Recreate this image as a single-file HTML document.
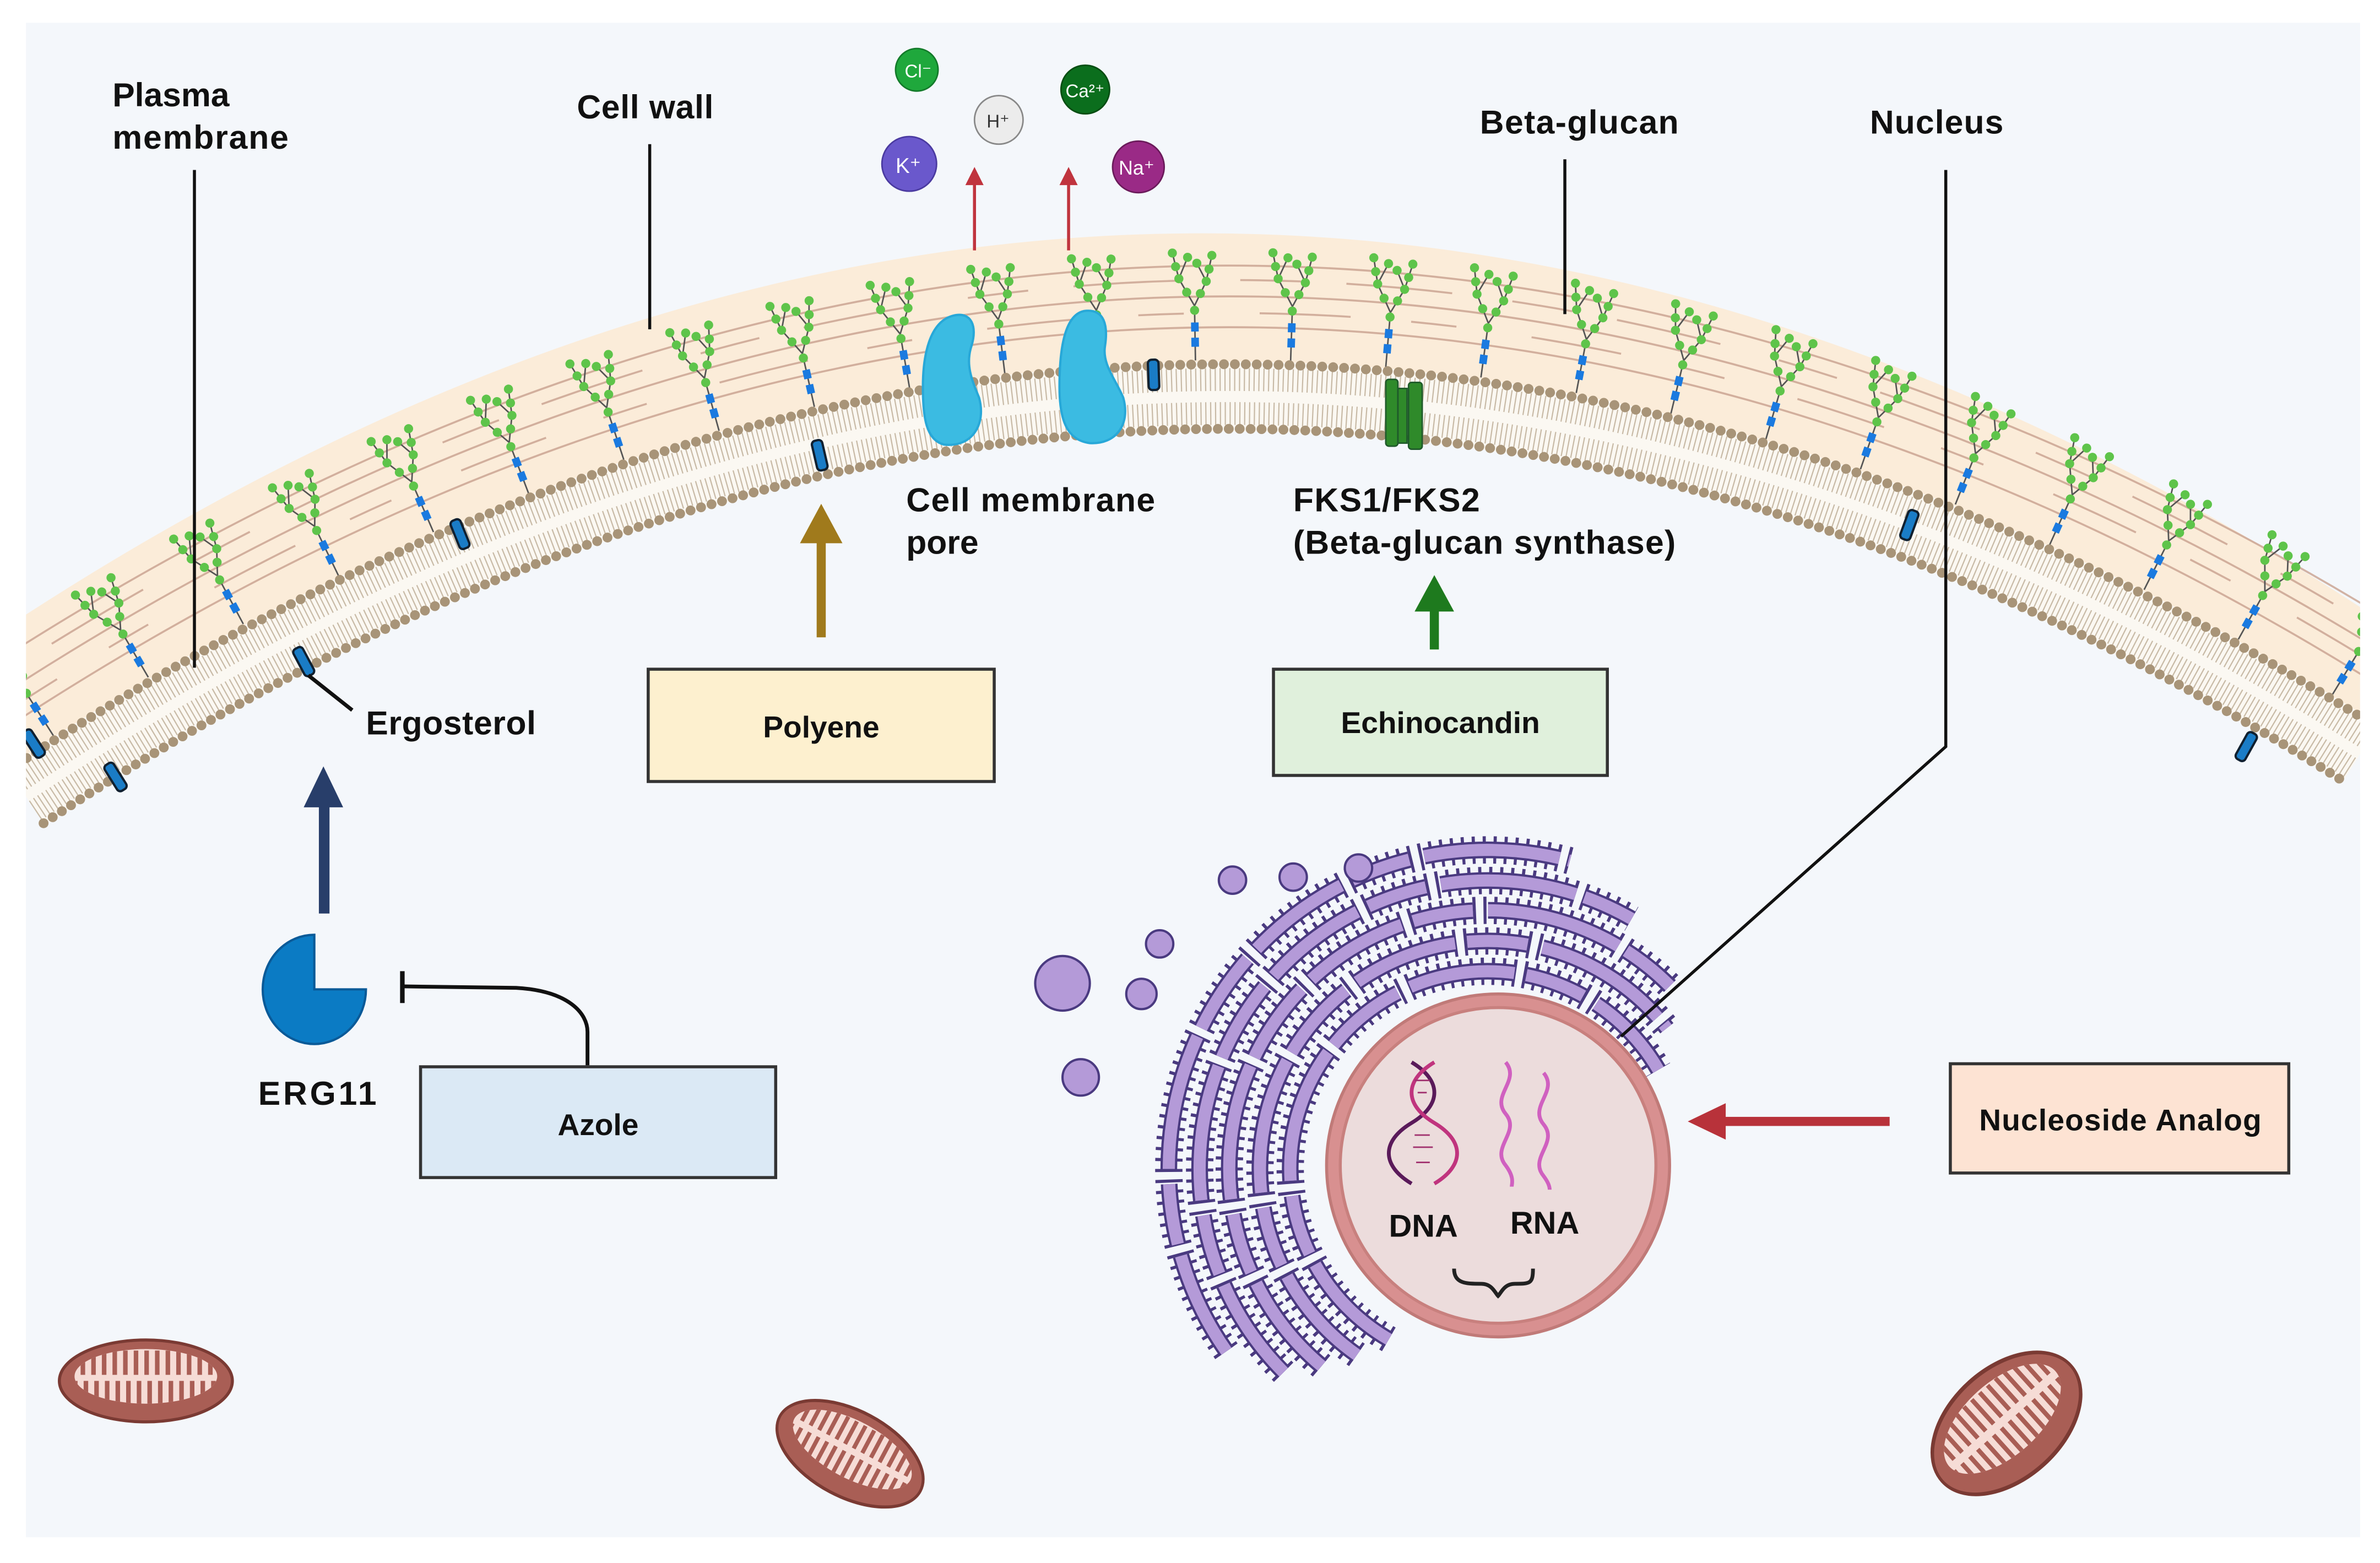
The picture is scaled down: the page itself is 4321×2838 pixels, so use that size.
<!DOCTYPE html>
<html><head><meta charset="utf-8"><style>
html,body{margin:0;padding:0;background:#fff;width:4321px;height:2838px;overflow:hidden;}
svg{display:block;}
text{font-family:"Liberation Sans",sans-serif;font-weight:bold;fill:#111;}
</style></head><body>
<svg width="4321" height="2838" viewBox="0 0 1568 1030" xmlns="http://www.w3.org/2000/svg" xmlns:xlink="http://www.w3.org/1999/xlink">
<defs>
<clipPath id="panel"><rect x="17" y="15" width="1538" height="998"/></clipPath>
<g id="tree">
<line x1="0" y1="0" x2="0" y2="-36" stroke="#555" stroke-width="1"/>
<path d="M0,-36 L-10,-54 L-14,-71 M-10,-54 L-4,-68 M0,-36 L8,-52 L12,-69 M8,-52 L2,-64" fill="none" stroke="#555" stroke-width="1"/>
<rect x="-2.5" y="-15" width="5" height="6" fill="#1a7ae0"/>
<rect x="-2.5" y="-25" width="5" height="6" fill="#1a7ae0"/>
<g fill="#5ec44a">
<circle cx="0" cy="-33" r="3"/><circle cx="-5" cy="-45" r="3"/><circle cx="-10" cy="-54" r="3"/><circle cx="-12" cy="-62" r="3"/><circle cx="-14" cy="-71" r="3"/><circle cx="-4" cy="-68" r="3"/><circle cx="4" cy="-44" r="3"/><circle cx="8" cy="-52" r="3"/><circle cx="10" cy="-60" r="3"/><circle cx="12" cy="-69" r="3"/><circle cx="2" cy="-64" r="3"/>
</g>
</g>
<g id="rod"><rect x="-3.5" y="-10" width="7" height="20" rx="2.5" fill="#1a7cc6" stroke="#102030" stroke-width="1.5"/></g>
<clipPath id="mclip"><ellipse cx="0" cy="-3" rx="47" ry="18"/></clipPath>
<g id="mito">
<ellipse cx="0" cy="0" rx="57" ry="27" fill="#a95e55" stroke="#7a3a33" stroke-width="2"/>
<ellipse cx="0" cy="-3" rx="47" ry="18" fill="#f6dcd6"/>
<g clip-path="url(#mclip)">
<line x1="-50" y1="-12" x2="50" y2="-12" stroke="#a95e55" stroke-width="16" stroke-dasharray="3 4"/>
<line x1="-48" y1="8" x2="50" y2="8" stroke="#a95e55" stroke-width="16" stroke-dasharray="3 4"/>
</g>
</g>
</defs>
<rect x="0" y="0" width="1568" height="1030" fill="#ffffff"/>
<rect x="17" y="15" width="1538" height="998" fill="#f4f7fb"/>
<g clip-path="url(#panel)">
<path d="M17,405 Q790,-95 1555,400 L1555,497 Q790,12 17,525 Z" fill="#fbecd9"/>
<g fill="none" stroke="#c9a08f" stroke-width="1.3" opacity="0.8">
<path d="M-7.9,487.5 Q789.4,-41.6 1579.1,459"/>
<path d="M-18.9,470.9 Q789.2,-65.5 1589.8,442.1"/>
<path d="M-30,454.2 Q788.9,-89.3 1600.5,425.2"/>
<path d="M-13,480 Q789,-52 1585,450" stroke-dasharray="60 40 30 50"/>
<path d="M-25,462 Q789,-78 1595,433" stroke-dasharray="40 30 70 40"/>
</g>
<use xlink:href="#tree" transform="translate(35,484.7) rotate(-32.5)"/>
<use xlink:href="#tree" transform="translate(97.6,446.3) rotate(-30.4)"/>
<use xlink:href="#tree" transform="translate(160.2,411.2) rotate(-28.2)"/>
<use xlink:href="#tree" transform="translate(222.9,379.3) rotate(-25.8)"/>
<use xlink:href="#tree" transform="translate(285.5,350.6) rotate(-23.4)"/>
<use xlink:href="#tree" transform="translate(348.2,325.2) rotate(-20.8)"/>
<use xlink:href="#tree" transform="translate(410.9,302.9) rotate(-18.2)"/>
<use xlink:href="#tree" transform="translate(473.7,283.9) rotate(-15.5)"/>
<use xlink:href="#tree" transform="translate(536.5,268.1) rotate(-12.7)"/>
<use xlink:href="#tree" transform="translate(599.2,255.6) rotate(-9.85)"/>
<use xlink:href="#tree" transform="translate(662,246.3) rotate(-6.95)"/>
<use xlink:href="#tree" transform="translate(724.8,240.4) rotate(-4)"/>
<use xlink:href="#tree" transform="translate(787.6,237.5) rotate(-1)"/>
<use xlink:href="#tree" transform="translate(850.3,238) rotate(1.9)"/>
<use xlink:href="#tree" transform="translate(913,241.8) rotate(4.9)"/>
<use xlink:href="#tree" transform="translate(975.7,248.7) rotate(7.8)"/>
<use xlink:href="#tree" transform="translate(1038.5,259) rotate(10.75)"/>
<use xlink:href="#tree" transform="translate(1100.9,272.5) rotate(13.6)"/>
<use xlink:href="#tree" transform="translate(1163.5,289.3) rotate(16.4)"/>
<use xlink:href="#tree" transform="translate(1225.8,309.2) rotate(19.1)"/>
<use xlink:href="#tree" transform="translate(1288.3,332.4) rotate(21.7)"/>
<use xlink:href="#tree" transform="translate(1350.5,358.9) rotate(24.3)"/>
<use xlink:href="#tree" transform="translate(1412.7,388.6) rotate(26.7)"/>
<use xlink:href="#tree" transform="translate(1474.8,421.3) rotate(29)"/>
<use xlink:href="#tree" transform="translate(1536.9,457.5) rotate(31.3)"/>
<path d="M30.3,545 Q790.3,40.6 1542.2,517.3 L1600,540 L1600,1100 L-50,1100 L-50,560 Z" fill="#f4f7fb"/>
<path d="M17,525 Q790,12 1555,497" fill="none" stroke="#fbf8f2" stroke-width="46"/>
<path d="M10.9,515.8 Q789.9,-1.1 1560.9,487.7" fill="none" stroke="#c8baa6" stroke-width="15" stroke-dasharray="0.8 2.4"/>
<path d="M23.1,534.2 Q790.1,25.1 1549.1,506.3" fill="none" stroke="#c8baa6" stroke-width="15" stroke-dasharray="0.8 2.4"/>
<path d="M5.4,507.5 Q789.7,-13 1566.2,479.3" fill="none" stroke="#a89478" stroke-width="6.5" stroke-linecap="round" stroke-dasharray="0 7.2"/>
<path d="M28.6,542.5 Q790.3,37 1543.8,514.7" fill="none" stroke="#a89478" stroke-width="6.5" stroke-linecap="round" stroke-dasharray="0 7.2"/>
<use xlink:href="#rod" transform="translate(22,490) rotate(-33)"/>
<use xlink:href="#rod" transform="translate(76,512) rotate(-32)"/>
<use xlink:href="#rod" transform="translate(200,436) rotate(-28)"/>
<use xlink:href="#rod" transform="translate(303,352) rotate(-22)"/>
<use xlink:href="#rod" transform="translate(540,300) rotate(-13)"/>
<use xlink:href="#rod" transform="translate(760,247) rotate(-2)"/>
<use xlink:href="#rod" transform="translate(1258,346) rotate(20)"/>
<use xlink:href="#rod" transform="translate(1480,492) rotate(29)"/>
</g>
<path d="M628,208 C640,205 644,215 640,228 C636,240 640,250 645,262 C650,280 640,295 622,293 C610,290 608,275 608,255 C608,235 612,212 628,208 Z" fill="#3bbbe2" stroke="#28a8d8" stroke-width="1.5"/>
<path d="M714,205 C728,203 730,215 728,228 C726,240 735,250 740,262 C745,280 735,293 718,292 C702,290 698,275 698,255 C698,235 700,208 714,205 Z" fill="#3bbbe2" stroke="#28a8d8" stroke-width="1.5"/>
<rect x="913" y="250" width="8" height="44" rx="2" fill="#2f8a2a" stroke="#1f5a2a" stroke-width="1"/>
<rect x="921" y="256" width="6" height="36" fill="#2f8a2a" stroke="#1f5a2a" stroke-width="1"/>
<rect x="928" y="252" width="9" height="44" rx="2" fill="#2f8a2a" stroke="#1f5a2a" stroke-width="1"/>
<line x1="642" y1="165" x2="642" y2="120" stroke="#c0343e" stroke-width="2"/><path d="M636,122 L642,110 L648,122 Z" fill="#c0343e"/>
<line x1="704" y1="165" x2="704" y2="120" stroke="#c0343e" stroke-width="2"/><path d="M698,122 L704,110 L710,122 Z" fill="#c0343e"/>
<circle cx="604" cy="46" r="14" fill="#1fa83c" stroke="#137a2a"/><text x="596" y="51" style="font-size:12px;font-weight:normal;fill:#fff">Cl⁻</text>
<circle cx="658" cy="79" r="16" fill="#ececec" stroke="#888"/><text x="650" y="84" style="font-size:12px;font-weight:normal;fill:#333">H⁺</text>
<circle cx="715" cy="59" r="16" fill="#0b6e1d" stroke="#064d12"/><text x="702" y="64" style="font-size:12px;font-weight:normal;fill:#fff">Ca²⁺</text>
<circle cx="599" cy="108" r="18" fill="#6a58cc" stroke="#4a3aa0"/><text x="590" y="114" style="font-size:14px;font-weight:normal;fill:#fff">K⁺</text>
<circle cx="750" cy="110" r="17" fill="#9a2a86" stroke="#6a1a5a"/><text x="737" y="115" style="font-size:13px;font-weight:normal;fill:#fff">Na⁺</text>
<text x="74" y="70" style="font-size:22px">Plasma</text>
<text x="74" y="98" style="font-size:22px" textLength="116">membrane</text>
<line x1="128" y1="112" x2="128" y2="440" stroke="#111" stroke-width="2"/>
<text x="380" y="78" style="font-size:22px" textLength="90">Cell wall</text>
<line x1="428" y1="95" x2="428" y2="217" stroke="#111" stroke-width="2"/>
<text x="975" y="88" style="font-size:22px" textLength="131">Beta-glucan</text>
<line x1="1031" y1="105" x2="1031" y2="207" stroke="#111" stroke-width="2"/>
<text x="1232" y="88" style="font-size:22px" textLength="88">Nucleus</text>
<text x="597" y="337" style="font-size:22px" textLength="164">Cell membrane</text>
<text x="597" y="365" style="font-size:22px">pore</text>
<text x="852" y="337" style="font-size:22px" textLength="123">FKS1/FKS2</text>
<text x="852" y="365" style="font-size:22px" textLength="252">(Beta-glucan synthase)</text>
<text x="241" y="484" style="font-size:22px" textLength="112">Ergosterol</text>
<line x1="203" y1="445" x2="232" y2="468" stroke="#111" stroke-width="2.5"/>
<rect x="538" y="355" width="6" height="65" fill="#a07a1c"/><path d="M527,358 L541,332 L555,358 Z" fill="#a07a1c"/>
<rect x="427" y="441" width="228" height="74" fill="#fdf0cf" stroke="#333" stroke-width="2"/>
<text x="541" y="486" text-anchor="middle" style="font-size:20px">Polyene</text>
<rect x="942" y="400" width="6" height="28" fill="#1e7a1e"/><path d="M932,403 L945,379 L958,403 Z" fill="#1e7a1e"/>
<rect x="839" y="441" width="220" height="70" fill="#e0f0dc" stroke="#333" stroke-width="2"/>
<text x="949" y="483" text-anchor="middle" style="font-size:20px">Echinocandin</text>
<rect x="210" y="528" width="7" height="74" fill="#283e6a"/><path d="M200,532 L213,505 L226,532 Z" fill="#283e6a"/>
<path d="M207,616 L207,652 L241,652 A34,36 0 1 1 207,616 Z" fill="#0b7bc4" stroke="#0a5a98" stroke-width="1.5"/>
<text x="170" y="728" style="font-size:22px" textLength="78">ERG11</text>
<line x1="265" y1="640" x2="265" y2="661" stroke="#111" stroke-width="3"/>
<path d="M265,650 L340,651 C375,653 387,668 387,680 L387,702" fill="none" stroke="#111" stroke-width="2.5"/>
<rect x="277" y="703" width="234" height="73" fill="#dbe9f5" stroke="#333" stroke-width="2"/>
<text x="394" y="748" text-anchor="middle" style="font-size:20px">Azole</text>
<!-- ER -->
<g fill="none">
<g stroke="#4a3a80" stroke-width="18" stroke-dasharray="2 5">
<path d="M915,882.6 A130,130 0 1 1 1092.6,705"/>
<path d="M894,892.9 A150,150 0 1 1 1098.2,677.6"/>
<path d="M870.7,900.2 A170,170 0 1 1 1100.2,649.8"/>
<path d="M845.7,904.3 A190,190 0 0 1 1075,605.5"/>
<path d="M808,890.5 A210,210 0 0 1 1034.3,567.2"/>
</g>
<g stroke="#4a3a80" stroke-width="11" stroke-dasharray="70 8 40 10 90 6 55 9">
<path d="M915,882.6 A130,130 0 1 1 1092.6,705"/>
<path d="M894,892.9 A150,150 0 1 1 1098.2,677.6"/>
<path d="M870.7,900.2 A170,170 0 1 1 1100.2,649.8"/>
<path d="M845.7,904.3 A190,190 0 0 1 1075,605.5"/>
<path d="M808,890.5 A210,210 0 0 1 1034.3,567.2"/>
</g>
<g stroke="#b49ad8" stroke-width="8" stroke-dasharray="70 8 40 10 90 6 55 9">
<path d="M915,882.6 A130,130 0 1 1 1092.6,705"/>
<path d="M894,892.9 A150,150 0 1 1 1098.2,677.6"/>
<path d="M870.7,900.2 A170,170 0 1 1 1100.2,649.8"/>
<path d="M845.7,904.3 A190,190 0 0 1 1075,605.5"/>
<path d="M808,890.5 A210,210 0 0 1 1034.3,567.2"/>
</g>
</g>
<g fill="#b49ad8" stroke="#4a3a80" stroke-width="1.5">
<circle cx="700" cy="648" r="18"/><circle cx="712" cy="710" r="12"/><circle cx="764" cy="622" r="9"/><circle cx="812" cy="580" r="9"/><circle cx="852" cy="578" r="9"/><circle cx="895" cy="572" r="9"/><circle cx="752" cy="655" r="10"/>
</g>
<polyline points="1282,112 1282,492 1068,683" fill="none" stroke="#111" stroke-width="2"/>
<!-- nucleus -->
<circle cx="987" cy="768" r="113" fill="#d89090" stroke="#c07a78" stroke-width="2"/>
<circle cx="987" cy="768" r="104" fill="#ecdcdc" stroke="#c8807e" stroke-width="2"/>
<g fill="none" stroke-width="2.5">
<path d="M930,700 C950,712 950,728 930,740 C910,752 910,768 930,780" stroke="#5a1a5a"/>
<path d="M945,700 C925,712 925,728 945,740 C965,752 965,768 945,780" stroke="#c0347e"/>
<path d="M992,700 C1002,712 982,722 992,734 C1002,746 982,756 992,768 C998,776 996,780 996,782" stroke="#d060c0"/>
<path d="M1017,707 C1027,719 1007,729 1017,741 C1027,753 1007,763 1017,775 C1020,779 1021,782 1021,784" stroke="#d060c0"/>
<path d="M958,836 C958,846 966,846 976,846 C983,846 985,852 987,854 C989,852 991,846 998,846 C1008,846 1010,846 1010,836" stroke="#222"/>
</g>
<g stroke="#a0306e" stroke-width="1">
<line x1="932" y1="712" x2="942" y2="712"/><line x1="934" y1="720" x2="940" y2="720"/><line x1="932" y1="748" x2="942" y2="748"/><line x1="931" y1="756" x2="944" y2="756"/><line x1="933" y1="766" x2="942" y2="766"/>
</g>
<text x="915" y="815" style="font-size:21px">DNA</text>
<text x="995" y="813" style="font-size:21px">RNA</text>
<rect x="1130" y="736" width="115" height="6" fill="#b8323a"/><path d="M1137,727 L1112,739 L1137,751 Z" fill="#b8323a"/>
<rect x="1285" y="701" width="223" height="72" fill="#fde3d3" stroke="#333" stroke-width="2"/>
<text x="1397" y="745" text-anchor="middle" style="font-size:20px" textLength="186">Nucleoside Analog</text>
<use xlink:href="#mito" transform="translate(96,910)"/>
<use xlink:href="#mito" transform="translate(560,958) rotate(28) scale(0.92,1.05)"/>
<use xlink:href="#mito" transform="translate(1322,938) rotate(-42) scale(1,1.35)"/>
</svg>
</body></html>
